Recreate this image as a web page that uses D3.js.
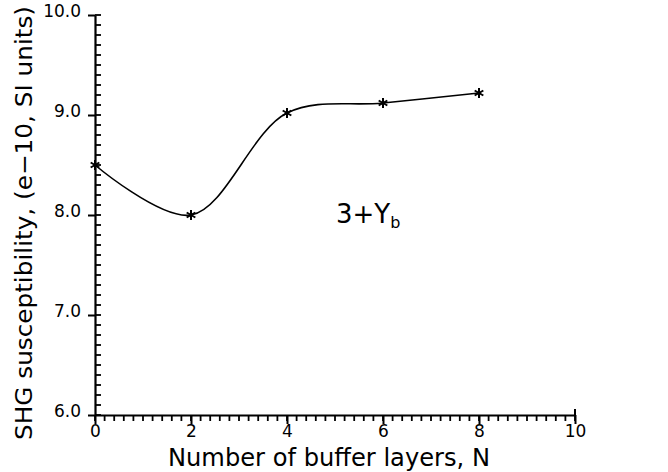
<!DOCTYPE html>
<html>
<head>
<meta charset="utf-8">
<script src="https://cdn.jsdelivr.net/npm/d3@7"></script>
<style>
  body { margin: 0; background: #fff; }
  svg text { font-family: "DejaVu Sans", "Liberation Sans", sans-serif; fill: #000; }
</style>
</head>
<body>
<div id="chart"></div>
<script>
// buffer layers N and SHG susceptibility (e-10 SI units)
let layers = [0, 2, 4, 6, 8];
let shg = [8.5, 8.0, 9.02, 9.12, 9.22];

let x_ticks = [0, 2, 4, 6, 8, 10];
let y_ticks = [6.0, 7.0, 8.0, 9.0, 10.0];
let x_minor = d3.range(0, 10.01, 0.2);
let y_minor = d3.range(6, 10.01, 0.1);

let width = 668, height = 472;
let margin = {top: 15, left: 95, right: 93, bottom: 57};

let svg = d3.select("#chart").append("svg")
    .attr("width", width)
    .attr("height", height);

let xScale = d3.scaleLinear().domain([0, 10]).range([margin.left, width - margin.right]);
let yScale = d3.scaleLinear().domain([6, 10]).range([height - margin.bottom, margin.top]);

// minor ticks (x below the axis, y inside the plot)
let minor = svg.append("g").attr("id", "minor_ticks");

minor.selectAll(".xminor")
    .data(x_minor)
    .join("line")
    .attr("class", "xminor")
    .attr("x1", d => xScale(d)).attr("x2", d => xScale(d))
    .attr("y1", yScale(6)).attr("y2", yScale(6) + 6)
    .attr("stroke", "#000").attr("stroke-width", 1.8);

minor.selectAll(".yminor")
    .data(y_minor)
    .join("line")
    .attr("class", "yminor")
    .attr("x1", xScale(0)).attr("x2", xScale(0) + 6)
    .attr("y1", d => yScale(d)).attr("y2", d => yScale(d))
    .attr("stroke", "#000").attr("stroke-width", 1.8);

// major axes
let xAxis = svg.append("g")
    .attr("transform", "translate(0," + yScale(6) + ")")
    .call(d3.axisBottom(xScale).tickValues(x_ticks).tickSize(9).tickSizeOuter(0).tickPadding(1).tickFormat(d3.format("d")));

let yAxis = svg.append("g")
    .attr("transform", "translate(" + xScale(0) + ",0)")
    .call(d3.axisLeft(yScale).tickValues(y_ticks).tickSize(7).tickSizeOuter(0).tickPadding(7).tickFormat(d3.format(".1f")));

[xAxis, yAxis].forEach(g => {
    g.select(".domain").attr("stroke-width", 2.2);
    g.selectAll(".tick line").attr("stroke", "#000").attr("stroke-width", 2);
    g.selectAll(".tick text").style("font-family", "'DejaVu Sans', sans-serif").style("font-size", "17px");
});
yAxis.selectAll(".tick text").attr("dy", "0.1em");

// small tick up at the end of x axis
svg.append("line")
    .attr("x1", xScale(10)).attr("x2", xScale(10))
    .attr("y1", yScale(6)).attr("y2", yScale(6) - 6)
    .attr("stroke", "#000").attr("stroke-width", 2);

let points = layers.map((d, i) => [d, shg[i]]);

let line = d3.line()
    .x(d => xScale(d[0]))
    .y(d => yScale(d[1]))
    .curve(d3.curveCatmullRom.alpha(0.5));

svg.append("path")
    .datum(points)
    .attr("d", line)
    .attr("fill", "none")
    .attr("stroke", "#000")
    .attr("stroke-width", 1.6);

let sym = d3.symbol().type(d3.symbolAsterisk || d3.symbolCross).size(70);
svg.selectAll(".marker")
    .data(points)
    .join("path")
    .attr("class", "marker")
    .attr("d", sym)
    .attr("transform", d => "translate(" + xScale(d[0]) + "," + yScale(d[1]) + ")")
    .attr("fill", "none")
    .attr("stroke", "#000")
    .attr("stroke-width", 2);

// axis titles
svg.append("text")
    .attr("x", 329)
    .attr("y", 466)
    .attr("text-anchor", "middle")
    .attr("textLength", 322)
    .attr("lengthAdjust", "spacingAndGlyphs")
    .style("font-size", "25px")
    .text("Number of buffer layers, N");

svg.append("text")
    .attr("transform", "translate(32," + 223 + ") rotate(-90)")
    .attr("text-anchor", "middle")
    .attr("textLength", 434)
    .attr("lengthAdjust", "spacingAndGlyphs")
    .style("font-size", "23px")
    .text("SHG susceptibility, (e\u221210, SI units)");

// annotation
let ann = svg.append("text")
    .attr("x", 336)
    .attr("y", 223)
    .style("font-size", "26px");
ann.append("tspan").text("3+Y");
ann.append("tspan").attr("dy", 5).style("font-size", "16px").text("b");
</script>
</body>
</html>
